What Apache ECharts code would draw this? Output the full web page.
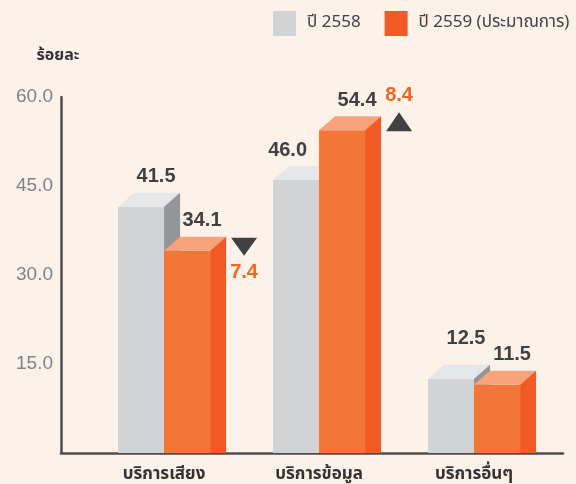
<!DOCTYPE html>
<html>
<head>
<meta charset="utf-8">
<script src="https://cdn.jsdelivr.net/npm/echarts@6/dist/echarts.min.js"></script>
<style>
html,body{margin:0;padding:0;background:#FDF2EA;}
#c{width:576px;height:484px;}
</style>
</head>
<body>
<div id="c"></div>
<script>
var categories = ['บริการเสียง', 'บริการข้อมูล', 'บริการอื่นๆ'];
var seriesNames = ['ปี 2558', 'ปี 2559 (ประมาณการ)'];
var values2558 = [41.5, 46.0, 12.5];
var values2559 = [34.1, 54.4, 11.5];
var changes = [-7.4, 8.4, null];
var yTicks = [0, 15, 60];

var FONT = "'Noto Sans Thai','Noto Sans','DejaVu Sans',sans-serif";
var NUMFONT = "'Liberation Sans','Noto Sans',sans-serif";
var DX = 16, DY = 14;
var palettes = [
  {front: '#D1D3D4', top: '#E6E7E8', side: '#939598'},
  {front: '#F47538', top: '#F7A47C', side: '#F15A24'}
];

function makeRender(s) {
  return function (params, api) {
    var i = api.value(0), v = api.value(1);
    var base = api.coord([i, 0]);
    var top = api.coord([i, v]);
    var w = api.size([1, 0])[0] * 0.297;
    var x0 = s === 0 ? base[0] - w : base[0];
    var yb = base[1], yt = top[1];
    var p = palettes[s];
    var children = [
      {type: 'rect', shape: {x: x0, y: yt, width: w, height: yb - yt}, style: {fill: p.front}},
      {type: 'polygon', shape: {points: [[x0, yt], [x0 + DX, yt - DY], [x0 + w + DX, yt - DY], [x0 + w, yt]]}, style: {fill: p.top}},
      {type: 'polygon', shape: {points: [[x0 + w, yt], [x0 + w + DX, yt - DY], [x0 + w + DX, yb], [x0 + w, yb]]}, style: {fill: p.side}}
    ];
    var lx = x0 + w / 2 + DX - 1, ly = yt - DY - 16, align = 'center';
    if (s === 0) {
      var other = values2559[i];
      if (other > v) { lx = x0 + w - 12; align = 'right'; }
      else if (v - other < 3) { ly -= 10; }
    }
    children.push({type: 'text', style: {x: lx, y: ly, text: v.toFixed(1), fill: '#404041',
      font: 'bold 20px ' + NUMFONT, textAlign: align, textVerticalAlign: 'middle'}});
    if (s === 1 && changes[i] != null) {
      var ch = changes[i];
      var cx = x0 + w + DX + 18;
      var bt = yt - DY;
      if (ch < 0) {
        children.push({type: 'polygon', shape: {points: [[cx - 13, bt + 1], [cx + 13, bt + 1], [cx, bt + 19]]}, style: {fill: '#414042'}});
        children.push({type: 'text', style: {x: cx, y: bt + 36, text: Math.abs(ch).toFixed(1), fill: '#F26522',
          font: 'bold 20px ' + NUMFONT, textAlign: 'center', textVerticalAlign: 'middle'}});
      } else {
        children.push({type: 'polygon', shape: {points: [[cx - 13, bt + 15], [cx + 13, bt + 15], [cx, bt - 4]]}, style: {fill: '#414042'}});
        children.push({type: 'text', style: {x: cx, y: bt - 21, text: Math.abs(ch).toFixed(1), fill: '#F26522',
          font: 'bold 20px ' + NUMFONT, textAlign: 'center', textVerticalAlign: 'middle'}});
      }
    }
    return {type: 'group', children: children};
  };
}

var chart = echarts.init(document.getElementById('c'), null, {renderer: 'canvas'});
chart.setOption({
  backgroundColor: '#FDF2EA',
  animation: false,
  textStyle: {fontFamily: FONT},
  legend: {
    left: 273, top: 11, padding: 0,
    itemWidth: 23, itemHeight: 25, itemGap: 24,
    icon: 'rect',
    textStyle: {fontSize: 17, color: '#414042', fontFamily: FONT, padding: [2, 0, 0, 6]},
    data: seriesNames
  },
  grid: {left: 61, right: 13, top: 97, bottom: 29},
  xAxis: {
    type: 'value', min: -0.665, max: 2.574,
    axisLine: {show: true, onZero: false, lineStyle: {color: '#4D4D4F', width: 2.5}},
    axisTick: {show: false},
    splitLine: {show: false},
    axisLabel: {
      customValues: [0, 1, 2],
      formatter: function (v) { return categories[Math.round(v)]; },
      fontSize: 17, fontWeight: 'bold', color: '#333333', margin: 14, fontFamily: FONT
    }
  },
  yAxis: {
    type: 'value', min: yTicks[0], max: yTicks[2], interval: yTicks[1],
    name: 'ร้อยละ', nameLocation: 'end', nameGap: 32,
    nameTextStyle: {fontSize: 16, fontWeight: 'bold', color: '#333333', align: 'center', padding: [0, 6, 0, 0], fontFamily: FONT},
    axisLine: {show: true, onZero: false, lineStyle: {color: '#4D4D4F', width: 2.5}},
    axisTick: {show: false},
    splitLine: {show: false},
    axisLabel: {showMinLabel: false, formatter: function (v) { return v.toFixed(1); }, fontSize: 19, color: '#808285', margin: 8, padding: [6, 0, 0, 0], fontFamily: NUMFONT}
  },
  series: [
    {name: seriesNames[0], type: 'custom', itemStyle: {color: palettes[0].front},
     data: values2558.map(function (v, i) { return [i, v]; }), renderItem: makeRender(0)},
    {name: seriesNames[1], type: 'custom', itemStyle: {color: '#F15A24'},
     data: values2559.map(function (v, i) { return [i, v]; }), renderItem: makeRender(1)}
  ]
});
</script>
</body>
</html>
